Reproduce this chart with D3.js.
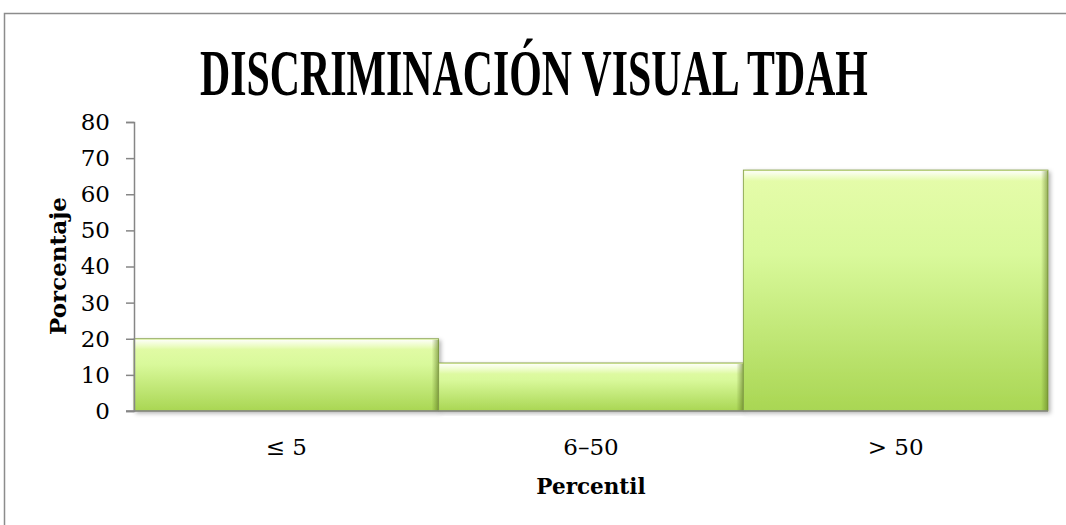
<!DOCTYPE html>
<html>
<head>
<meta charset="utf-8">
<script src="https://cdn.jsdelivr.net/npm/d3@7"></script>
<style>
  body { margin: 0; background: #fff; }
  svg { display: block; }
</style>
</head>
<body>
<svg></svg>
<script>
// chart data
const categories = ["≤ 5", "6–50", "> 50"];
const percentages = [20, 13.3, 66.7];
const yTicks = [0, 10, 20, 30, 40, 50, 60, 70, 80];

const chartTitle = "DISCRIMINACIÓN VISUAL TDAH";
const xTitle = "Percentil";
const yTitle = "Porcentaje";

const w = 1066;
const h = 525;
const plot = { left: 134, right: 1048, top: 122, bottom: 411 };

let svg = d3.select("svg").attr("width", w).attr("height", h);
let defs = svg.append("defs");

// bar body gradient, light on top to deeper green at the bottom
let grad = defs.append("linearGradient").attr("id", "barFill")
  .attr("x1", 0).attr("y1", 0).attr("x2", 0).attr("y2", 1);
grad.append("stop").attr("offset", "0%").attr("stop-color", "#e6fcab");
grad.append("stop").attr("offset", "35%").attr("stop-color", "#d9f99b");
grad.append("stop").attr("offset", "100%").attr("stop-color", "#a9d653");

// top bevel highlight
let hi = defs.append("linearGradient").attr("id", "topHi")
  .attr("x1", 0).attr("y1", 0).attr("x2", 0).attr("y2", 1);
hi.append("stop").attr("offset", "0%").attr("stop-color", "#ffffff").attr("stop-opacity", 0.9);
hi.append("stop").attr("offset", "100%").attr("stop-color", "#ffffff").attr("stop-opacity", 0);

// right edge shade
let rs = defs.append("linearGradient").attr("id", "rightShade")
  .attr("x1", 0).attr("y1", 0).attr("x2", 1).attr("y2", 0);
rs.append("stop").attr("offset", "0%").attr("stop-color", "#5f7a22").attr("stop-opacity", 0);
rs.append("stop").attr("offset", "100%").attr("stop-color", "#5f7a22").attr("stop-opacity", 0.6);

let shadow = defs.append("filter").attr("id", "shadow")
  .attr("x", "-5%").attr("y", "-5%").attr("width", "110%").attr("height", "115%");
shadow.append("feDropShadow").attr("dx", 2).attr("dy", 2).attr("stdDeviation", 2)
  .attr("flood-color", "#000").attr("flood-opacity", 0.3);

// outer chart frame (right and bottom edges fall outside the window)
svg.append("rect")
  .attr("x", 4.5).attr("y", 13.5).attr("width", 1100).attr("height", 600)
  .attr("fill", "none").attr("stroke", "#8c8c8c").attr("stroke-width", 1.5);

let xScale = d3.scaleBand()
  .domain(categories)
  .range([plot.left, plot.right])
  .paddingInner(0).paddingOuter(0);

let yScale = d3.scaleLinear()
  .domain([0, 80])
  .range([plot.bottom, plot.top]);

// bars
let bars = svg.append("g").selectAll("g.bar")
  .data(categories.map((c, i) => ({ cat: c, val: percentages[i] })))
  .enter().append("g").attr("class", "bar");

bars.append("rect")
  .attr("x", d => xScale(d.cat))
  .attr("y", d => yScale(d.val))
  .attr("width", xScale.bandwidth())
  .attr("height", d => yScale(0) - yScale(d.val))
  .attr("fill", "url(#barFill)")
  .attr("stroke", "#7f9a45")
  .attr("stroke-width", 0.8)
  .attr("filter", "url(#shadow)");

bars.append("rect")
  .attr("x", d => xScale(d.cat) + 1)
  .attr("y", d => yScale(d.val) + 1)
  .attr("width", xScale.bandwidth() - 2)
  .attr("height", 10)
  .attr("fill", "url(#topHi)");

bars.append("rect")
  .attr("x", d => xScale(d.cat) + xScale.bandwidth() - 7)
  .attr("y", d => yScale(d.val) + 1)
  .attr("width", 7)
  .attr("height", d => yScale(0) - yScale(d.val) - 1)
  .attr("fill", "url(#rightShade)");

// y axis
let yAxis = d3.axisLeft(yScale).tickValues(yTicks).tickSize(8).tickPadding(16);
let gy = svg.append("g")
  .attr("transform", "translate(" + plot.left + ",0)")
  .call(yAxis);
gy.select(".domain").attr("stroke", "#868686").attr("stroke-width", 1.5);
gy.selectAll(".tick line").attr("stroke", "#868686").attr("stroke-width", 1.5);
gy.selectAll(".tick text")
  .attr("fill", "#000")
  .style("font-family", "'DejaVu Serif', serif")
  .style("font-size", "23px");

// x axis
let xAxis = d3.axisBottom(xScale).tickSize(0).tickPadding(28);
let gx = svg.append("g")
  .attr("transform", "translate(0," + plot.bottom + ")")
  .call(xAxis);
gx.select(".domain").attr("stroke", "#868686").attr("stroke-width", 1.5)
  .attr("d", "M" + (plot.left - 8) + ",0H" + plot.right);
gx.selectAll(".tick text")
  .attr("fill", "#000")
  .style("font-family", "'DejaVu Serif', serif")
  .style("font-size", "23px");

// title: condensed bold serif, squeezed to the reference width
let title = svg.append("text")
  .style("font-family", "'Liberation Serif', serif")
  .style("font-weight", "bold")
  .style("font-size", "65px")
  .attr("text-anchor", "middle")
  .text(chartTitle);
let natural = title.node().getComputedTextLength();
let sx = 668 / natural;
title.attr("transform", "translate(534,95) scale(" + sx + ",1)");

svg.append("text")
  .attr("x", (plot.left + plot.right) / 2).attr("y", 494)
  .attr("text-anchor", "middle")
  .style("font-family", "'DejaVu Serif', serif")
  .style("font-weight", "bold")
  .style("font-size", "21.5px")
  .text(xTitle);

svg.append("text")
  .attr("transform", "translate(66," + 266 + ") rotate(-90)")
  .attr("text-anchor", "middle")
  .style("font-family", "'DejaVu Serif', serif")
  .style("font-weight", "bold")
  .style("font-size", "23px")
  .text(yTitle);
</script>
</body>
</html>
